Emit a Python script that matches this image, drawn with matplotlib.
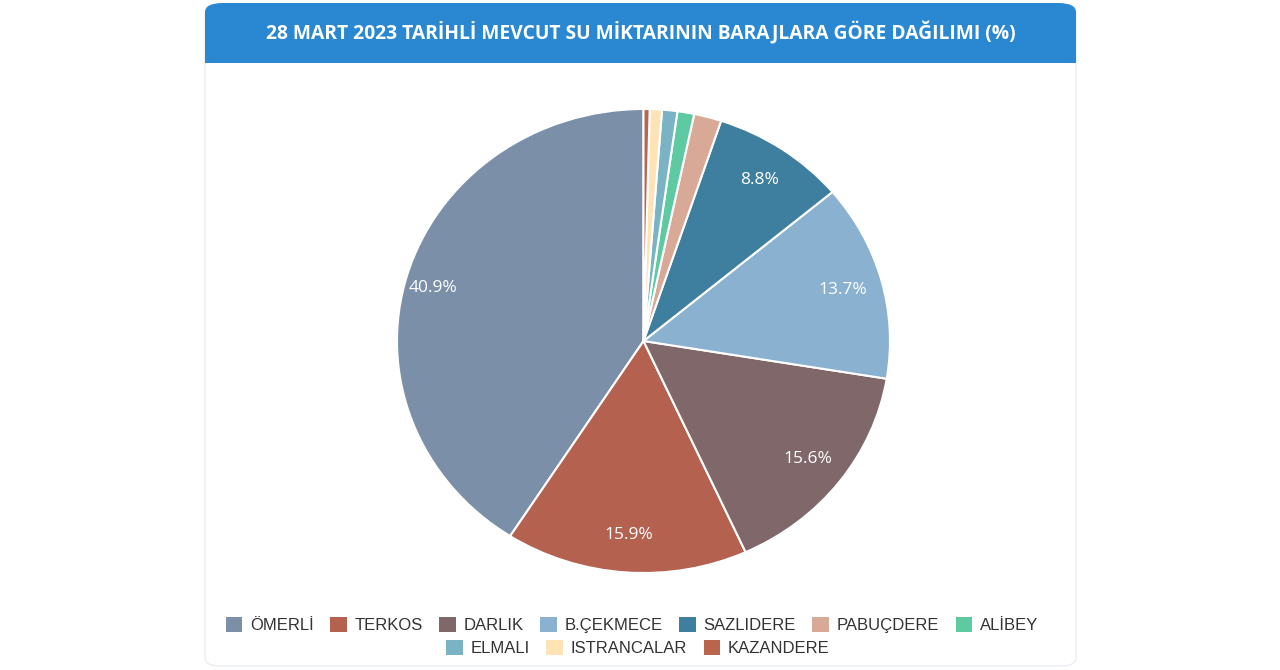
"""
Pie chart: distribution of available water by dam, 28 March 2023 (%)
"""
import matplotlib.pyplot as plt
from matplotlib.patches import FancyBboxPatch, Rectangle

#########################################################
# Data
#########################################################

dams = ["ÖMERLİ", "TERKOS", "DARLIK", "B.ÇEKMECE", "SAZLIDERE",
        "PABUÇDERE", "ALİBEY", "ELMALI", "ISTRANCALAR", "KAZANDERE"]
shares = [40.9, 15.9, 15.6, 13.7, 8.8, 1.8, 1.1, 1.0, 0.8, 0.4]
colors = ["#7b8fa9", "#b5614f", "#7f676a", "#8ab1d0", "#3e7f9f",
          "#d9a997", "#5dcaa2", "#7ab4c4", "#fde3b6", "#b9654d"]
title = "28 MART 2023 TARİHLİ MEVCUT SU MİKTARININ BARAJLARA GÖRE DAĞILIMI (%)"

#########################################################
# Figure
#########################################################

W, H = 1280, 670
fig = plt.figure(figsize=(W / 100, H / 100), dpi=100)
fig.patch.set_facecolor("white")

# card border
card = FancyBboxPatch((205 / W, 4 / H), (1076 - 205) / W, (666 - 4) / H,
                      boxstyle="round,pad=0,rounding_size=0.012",
                      transform=fig.transFigure, facecolor="white",
                      edgecolor="#eaeef2", linewidth=1.0, zorder=-2)
fig.patches.append(card)

# blue header (rounded top, square bottom)
header = FancyBboxPatch((205 / W, (H - 63) / H), (1076 - 205) / W, 60 / H,
                        boxstyle="round,pad=0,rounding_size=0.014",
                        transform=fig.transFigure, facecolor="#2a88d2",
                        edgecolor="none", zorder=-1)
fig.patches.append(header)
fig.patches.append(Rectangle((205 / W, (H - 63) / H), (1076 - 205) / W, 20 / H,
                             transform=fig.transFigure, facecolor="#2a88d2",
                             edgecolor="none", zorder=-1))
fig.text(641 / W, 1 - 33 / H, title, ha="center", va="center",
         color="white", fontsize=13.9, fontweight="bold", family="Open Sans")

#########################################################
# Pie (the source image is slightly stretched horizontally)
#########################################################

cx, cy, rx, ry = 643.5, 341, 246.5, 232
ax = fig.add_axes([(cx - rx) / W, (H - cy - ry) / H, 2 * rx / W, 2 * ry / H])
ax.set_zorder(2)
wedges, texts, autotexts = ax.pie(
    shares, colors=colors, startangle=90, counterclock=True,
    autopct=lambda p: f"{p:.1f}%" if p > 5 else "", pctdistance=0.84,
    wedgeprops=dict(edgecolor="white", linewidth=1.5),
    textprops=dict(color="white", fontsize=12.5, family="Open Sans"))
# Ömerli label sits a bit further out
x0, y0 = autotexts[0].get_position()
autotexts[0].set_position((x0 * 1.06, y0 * 0.97))
ax.set_xlim(-1.0, 1.0)
ax.set_ylim(-1.0, 1.0)
ax.set_aspect("auto")
ax.axis("off")

#########################################################
# Legend (two centred rows)
#########################################################

leg_kw = dict(frameon=False, handlelength=1.0, handleheight=1.0,
              handletextpad=0.45, columnspacing=1.0,
              prop=dict(family="Liberation Sans", size=12),
              labelcolor="#333333", borderaxespad=0)
leg1 = fig.legend(wedges[:7], dams[:7], ncol=7, loc="center",
                  bbox_to_anchor=(632 / W, 1 - 625 / H), **leg_kw)
leg2 = fig.legend(wedges[7:], dams[7:], ncol=3, loc="center",
                  bbox_to_anchor=(638 / W, 1 - 648 / H), **leg_kw)
for leg in (leg1, leg2):
    for h in leg.legend_handles:
        h.set_edgecolor("none")

fig.savefig("out.png", dpi=100, facecolor="white")
